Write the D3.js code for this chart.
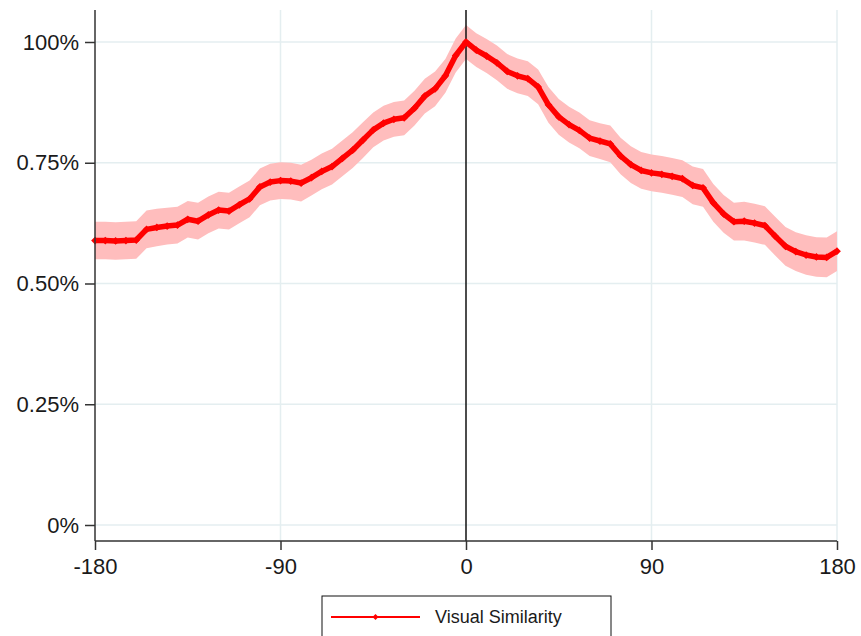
<!DOCTYPE html>
<html>
<head>
<meta charset="utf-8">
<script src="https://cdn.jsdelivr.net/npm/d3@7"></script>
<style>
    body { margin: 0; background: #fff; }
    text { font-family: "Liberation Sans", Arial, sans-serif; fill: #1a1a1a; }
</style>
</head>
<body>
<svg id="chart" width="861" height="636"></svg>
<script>

// --------------------------------------
// Data
// --------------------------------------

// angle offsets, every 5 degrees
var angles = [-180, -175, -170, -165, -160, -155, -150, -145, -140, -135, -130, -125, -120, -115, -110, -105,
    -100, -95, -90, -85, -80, -75, -70, -65, -60, -55, -50, -45, -40, -35, -30, -25, -20, -15, -10, -5,
    0, 5, 10, 15, 20, 25, 30, 35, 40, 45, 50, 55, 60, 65, 70, 75, 80, 85, 90, 95,
    100, 105, 110, 115, 120, 125, 130, 135, 140, 145, 150, 155, 160, 165, 170, 175, 180];

// visual similarity (share of the peak)
var similarity = [0.589, 0.589, 0.588, 0.589, 0.590, 0.612, 0.616, 0.619, 0.621, 0.633, 0.629, 0.642, 0.652, 0.650, 0.663, 0.675,
    0.700, 0.710, 0.713, 0.712, 0.708, 0.719, 0.732, 0.742, 0.759, 0.776, 0.797, 0.818, 0.832, 0.840, 0.843, 0.863, 0.888, 0.903, 0.930, 0.972,
    1.000, 0.983, 0.971, 0.957, 0.939, 0.930, 0.924, 0.907, 0.870, 0.845, 0.829, 0.817, 0.801, 0.795, 0.789, 0.764, 0.746, 0.734, 0.729, 0.726,
    0.722, 0.717, 0.703, 0.698, 0.667, 0.644, 0.628, 0.629, 0.625, 0.620, 0.598, 0.577, 0.566, 0.559, 0.555, 0.554, 0.567];

// half width of the confidence band
var ciHalf = [0.039, 0.039, 0.039, 0.039, 0.039, 0.039, 0.039, 0.038, 0.038, 0.038, 0.038, 0.038, 0.038, 0.038, 0.038, 0.038,
    0.038, 0.038, 0.038, 0.038, 0.038, 0.037, 0.037, 0.037, 0.037, 0.037, 0.037, 0.036, 0.036, 0.036, 0.036, 0.036, 0.036, 0.036, 0.035, 0.035,
    0.035, 0.035, 0.035, 0.036, 0.036, 0.036, 0.036, 0.036, 0.037, 0.037, 0.037, 0.037, 0.037, 0.037, 0.038, 0.038, 0.038, 0.038, 0.038, 0.038,
    0.038, 0.038, 0.039, 0.039, 0.039, 0.039, 0.039, 0.040, 0.040, 0.040, 0.040, 0.040, 0.040, 0.041, 0.041, 0.041, 0.041];

var xTicks = [-180, -90, 0, 90, 180];
var xTickLabels = ["-180", "-90", "0", "90", "180"];
var yTicks = [0, 0.25, 0.5, 0.75, 1];
var yTickLabels = ["0%", "0.25%", "0.50%", "0.75%", "100%"];
var seriesName = "Visual Similarity";

// --------------------------------------
// Plot
// --------------------------------------

var svg = d3.select("#chart");

var plotLeft = 95, plotRight = 837, plotTop = 10, plotBottom = 541;

var x = d3.scaleLinear().domain([-180, 180]).range([plotLeft, plotRight]);
var y = d3.scaleLinear().domain([0, 1]).range([525, 42]);

var points = angles.map(function(a, i) {
    return {a: a, v: similarity[i], lo: similarity[i] - ciHalf[i], hi: similarity[i] + ciHalf[i]};
});

// grid lines
var grid = svg.append("g").attr("stroke", "#e4eef0").attr("stroke-width", 1.5);
grid.selectAll("line.hgrid")
    .data(yTicks)
    .enter().append("line")
    .attr("x1", plotLeft).attr("x2", plotRight)
    .attr("y1", function(d) { return y(d); })
    .attr("y2", function(d) { return y(d); });
grid.selectAll("line.vgrid")
    .data(xTicks.filter(function(d) { return d !== -180 && d !== 0; }))
    .enter().append("line")
    .attr("y1", plotTop).attr("y2", plotBottom)
    .attr("x1", function(d) { return x(d); })
    .attr("x2", function(d) { return x(d); });

// confidence band
var band = d3.area()
    .x(function(d) { return x(d.a); })
    .y0(function(d) { return y(d.lo); })
    .y1(function(d) { return y(d.hi); });

svg.append("path")
    .datum(points)
    .attr("d", band)
    .attr("fill", "#ffbdbd");

// reference line at zero
svg.append("line")
    .attr("x1", x(0)).attr("x2", x(0))
    .attr("y1", plotTop).attr("y2", plotBottom)
    .attr("stroke", "#111").attr("stroke-width", 1.5);

// the series line with markers
var line = d3.line()
    .x(function(d) { return x(d.a); })
    .y(function(d) { return y(d.v); });

svg.append("path")
    .datum(points)
    .attr("d", line)
    .attr("fill", "none")
    .attr("stroke", "#ff0000")
    .attr("stroke-width", 5.5)
    .attr("stroke-linejoin", "round");

var marker = d3.symbol().type(d3.symbolSquare).size(30);
svg.selectAll("path.mark")
    .data(points)
    .enter().append("path")
    .attr("class", "mark")
    .attr("d", marker)
    .attr("fill", "#ff0000")
    .attr("transform", function(d) { return "translate(" + x(d.a) + "," + y(d.v) + ") rotate(45)"; });

// axes
var yAxis = d3.axisLeft(y)
    .tickValues(yTicks)
    .tickFormat(function(d, i) { return yTickLabels[i]; })
    .tickSize(10)
    .tickPadding(6);

var gy = svg.append("g").attr("transform", "translate(" + plotLeft + ",0)").call(yAxis);
gy.select(".domain").remove();

var xAxis = d3.axisBottom(x)
    .tickValues(xTicks)
    .tickFormat(function(d, i) { return xTickLabels[i]; })
    .tickSize(9)
    .tickPadding(8);

var gx = svg.append("g").attr("transform", "translate(0," + plotBottom + ")").call(xAxis);
gx.select(".domain").remove();

svg.selectAll(".tick text").attr("font-size", 22).attr("fill", "#1a1a1a");
svg.selectAll(".tick line").attr("stroke", "#333").attr("stroke-width", 1.5);

svg.append("line")
    .attr("x1", plotLeft).attr("x2", plotLeft)
    .attr("y1", plotTop).attr("y2", plotBottom)
    .attr("stroke", "#333").attr("stroke-width", 1.5);
svg.append("line")
    .attr("x1", plotLeft).attr("x2", plotRight)
    .attr("y1", plotBottom).attr("y2", plotBottom)
    .attr("stroke", "#333").attr("stroke-width", 1.5);

// legend
var legend = svg.append("g");
legend.append("rect")
    .attr("x", 322).attr("y", 596)
    .attr("width", 289).attr("height", 60)
    .attr("fill", "#fff").attr("stroke", "#111").attr("stroke-width", 1);
legend.append("line")
    .attr("x1", 331).attr("x2", 420)
    .attr("y1", 617).attr("y2", 617)
    .attr("stroke", "#ff0000").attr("stroke-width", 2);
legend.append("path")
    .attr("d", d3.symbol().type(d3.symbolSquare).size(18))
    .attr("fill", "#ff0000")
    .attr("transform", "translate(375.5,617) rotate(45)");
legend.append("text")
    .attr("x", 435).attr("y", 623)
    .attr("font-size", 18)
    .text(seriesName);

</script>
</body>
</html>
